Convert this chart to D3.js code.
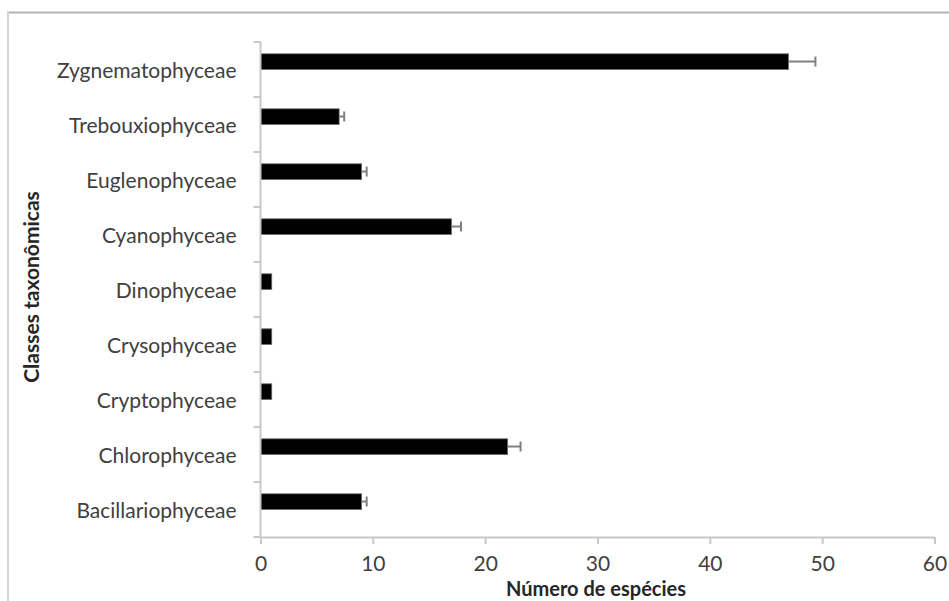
<!DOCTYPE html>
<html>
<head>
<meta charset="utf-8">
<script src="https://cdn.jsdelivr.net/npm/d3@7"></script>
<style>
  html, body { margin: 0; padding: 0; background: #fff; }
  svg { display: block; }
  text { font-family: Lato, "Liberation Sans", sans-serif; }
</style>
</head>
<body>
<svg id="chart" width="949" height="601"></svg>
<script>
// Taxonomic classes, listed top to bottom
const categories = [
  "Zygnematophyceae",
  "Trebouxiophyceae",
  "Euglenophyceae",
  "Cyanophyceae",
  "Dinophyceae",
  "Crysophyceae",
  "Cryptophyceae",
  "Chlorophyceae",
  "Bacillariophyceae"
];
// Mean number of species per class
const speciesCount = [47, 7, 9, 17, 1, 1, 1, 22, 9];
// Standard error for each class
const speciesError = [2.4, 0.45, 0.45, 0.85, 0, 0, 0, 1.15, 0.45];
const xTicks = [0, 10, 20, 30, 40, 50, 60];

const svg = d3.select("#chart");
const plotLeft = 260.5, plotRight = 934.5, plotTop = 42, plotBottom = 537;

// Outer chart frame
svg.append("line").attr("x1", 7).attr("x2", 949).attr("y1", 12.5).attr("y2", 12.5)
  .attr("stroke", "#b3b3b3").attr("stroke-width", 2);
svg.append("line").attr("x1", 8).attr("x2", 8).attr("y1", 12).attr("y2", 601)
  .attr("stroke", "#d4d4d4").attr("stroke-width", 2);

const x = d3.scaleLinear().domain([0, 60]).range([plotLeft, plotRight]);
const y = d3.scaleBand().domain(categories).range([plotTop, plotBottom]);
const bw = y.bandwidth();

const data = categories.map((c, i) => ({ c, v: speciesCount[i], e: speciesError[i] }));

// Bars
svg.append("g").selectAll("rect").data(data).join("rect")
  .attr("x", x(0))
  .attr("y", d => y(d.c) + bw * 0.215)
  .attr("width", d => x(d.v) - x(0))
  .attr("height", bw * 0.285)
  .attr("fill", "#000")
  .attr("stroke", "#6a6a6a")
  .attr("stroke-width", 0.8);

// Error bars
const eb = svg.append("g").selectAll("g").data(data.filter(d => d.e > 0)).join("g");
eb.append("line")
  .attr("x1", d => x(d.v)).attr("x2", d => x(d.v + d.e))
  .attr("y1", d => y(d.c) + bw * 0.355).attr("y2", d => y(d.c) + bw * 0.355)
  .attr("stroke", "#808080").attr("stroke-width", 2);
eb.append("line")
  .attr("x1", d => x(d.v + d.e)).attr("x2", d => x(d.v + d.e))
  .attr("y1", d => y(d.c) + bw * 0.355 - 5).attr("y2", d => y(d.c) + bw * 0.355 + 5)
  .attr("stroke", "#808080").attr("stroke-width", 2);

// Y axis
const yAxis = svg.append("g").attr("transform", `translate(${plotLeft},0)`);
yAxis.append("line").attr("x1", 0).attr("x2", 0).attr("y1", plotTop).attr("y2", plotBottom)
  .attr("stroke", "#c8c8c8").attr("stroke-width", 2);
yAxis.selectAll(".tk").data(d3.range(categories.length + 1)).join("line")
  .attr("x1", -7).attr("x2", 0)
  .attr("y1", i => plotTop + i * bw).attr("y2", i => plotTop + i * bw)
  .attr("stroke", "#c8c8c8").attr("stroke-width", 2);
yAxis.selectAll(".lbl").data(categories).join("text")
  .attr("x", -24).attr("y", c => y(c) + bw / 2)
  .attr("text-anchor", "end").attr("dominant-baseline", "central")
  .attr("font-size", 21).attr("fill", "#404040")
  .text(c => c);

// X axis
const xAxisG = svg.append("g").attr("transform", `translate(0,${plotBottom})`)
  .call(d3.axisBottom(x).tickValues(xTicks).tickSize(7).tickSizeOuter(0).tickPadding(12));
xAxisG.select(".domain").attr("stroke", "#c8c8c8").attr("stroke-width", 2);
xAxisG.selectAll(".tick line").attr("stroke", "#c8c8c8").attr("stroke-width", 2);
xAxisG.selectAll(".tick text").attr("font-size", 21).attr("fill", "#404040")
  .attr("font-family", "Lato, 'Liberation Sans', sans-serif");

// Axis titles
svg.append("text").attr("x", 596).attr("y", 588)
  .attr("text-anchor", "middle").attr("dominant-baseline", "central")
  .attr("font-size", 20).attr("font-weight", "bold").attr("fill", "#262626")
  .text("Número de espécies");
svg.append("text").attr("transform", "translate(30,287) rotate(-90)")
  .attr("text-anchor", "middle").attr("dominant-baseline", "central")
  .attr("font-size", 21).attr("font-weight", "bold").attr("fill", "#262626")
  .text("Classes taxonômicas");
</script>
</body>
</html>
